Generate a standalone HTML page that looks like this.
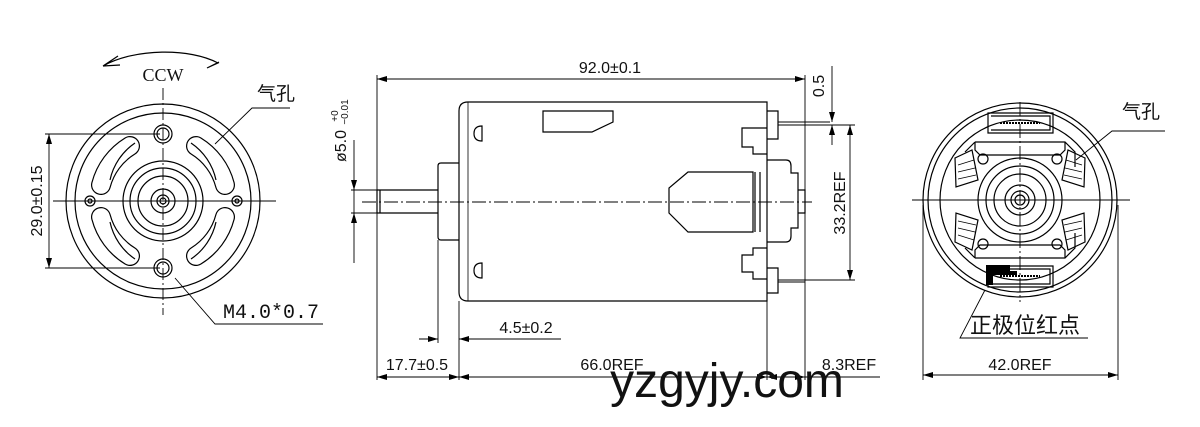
<!DOCTYPE html>
<html><head><meta charset="utf-8"><style>
html,body{margin:0;padding:0;background:#fff;width:1200px;height:427px;overflow:hidden}
svg{display:block}
text{font-family:"Liberation Sans","Noto Sans CJK SC",sans-serif;fill:#111}
</style></head><body>
<svg width="1200" height="427" viewBox="0 0 1200 427" xmlns="http://www.w3.org/2000/svg">
<defs>
<marker id="a" viewBox="0 0 10 6" refX="10" refY="3" markerWidth="10" markerHeight="6" orient="auto-start-reverse" markerUnits="userSpaceOnUse"><path d="M0,0 L10,3 L0,6 z" fill="#000"/></marker>
</defs>
<g fill="none" stroke="#000" stroke-width="1.2">
<!-- LEFT VIEW -->
<circle cx="163" cy="201" r="97"/>
<circle cx="163" cy="201" r="88"/>
<circle cx="163" cy="201" r="40"/>
<circle cx="163" cy="201" r="33"/>
<circle cx="163" cy="201" r="25"/>
<circle cx="163" cy="201" r="12"/>
<circle cx="163" cy="201" r="6"/>
<circle cx="163" cy="201" r="3"/>
<circle cx="163" cy="134" r="9"/><circle cx="163" cy="134" r="6"/>
<circle cx="163" cy="268" r="9"/><circle cx="163" cy="268" r="6"/>
<circle cx="90" cy="201" r="5"/><circle cx="90" cy="201" r="2"/>
<circle cx="237" cy="201" r="5"/><circle cx="237" cy="201" r="2"/>
<g stroke-width="20" stroke-linecap="round">
<path d="M130,146 A65,65 0 0 0 101,185"/>
<path d="M196,146 A65,65 0 0 1 225,185"/>
<path d="M101,217 A65,65 0 0 0 130,256"/>
<path d="M225,217 A65,65 0 0 1 196,256"/>
</g>
<g stroke="#fff" stroke-width="17.6" stroke-linecap="round">
<path d="M130,146 A65,65 0 0 0 101,185"/>
<path d="M196,146 A65,65 0 0 1 225,185"/>
<path d="M101,217 A65,65 0 0 0 130,256"/>
<path d="M225,217 A65,65 0 0 1 196,256"/>
</g>
<path d="M135,143 A60,60 0 0 0 110,180"/><path d="M191,143 A60,60 0 0 1 216,180"/>
<path d="M110,222 A60,60 0 0 0 135,259"/><path d="M216,222 A60,60 0 0 1 191,259"/>
<path d="M163,88 V315" stroke-dasharray="12,3,2,3" stroke-width="0.9"/>
<path d="M53,201 H276" stroke-width="0.9"/>
<path d="M45,134 H160 M45,268 H160" stroke-width="0.9"/>
<path d="M49,134 V268" marker-start="url(#a)" marker-end="url(#a)" stroke-width="0.9"/>
<path d="M103,66 C135,48 190,48 218,63 L207,68 L219,62 M103,66 L118,56 M103,66 L120,65"/>
<path d="M290,108 H252 L215,144" stroke-width="0.9"/>
<path d="M323,324 H215 L175,278" stroke-width="0.9"/>

<!-- MIDDLE VIEW -->
<path d="M468,102 H767 V301 H468 Q459,301 459,292 V111 Q459,102 468,102 Z"/>
<path d="M468,102 V301" stroke-width="0.8"/>
<path d="M459,163 H441 Q438,163 438,166 V237 Q438,240 441,240 H459"/>
<path d="M377,190 H438 M377,213 H438 M377,190 V213 M380,190 V213"/>
<path d="M362,202 H812" stroke-dasharray="14,3,2,3" stroke-width="0.9"/>
<path d="M482,126 V141 Q474,141 474,133.5 Q474,126 482,126 Z"/>
<path d="M482,263 V278 Q474,278 474,270.5 Q474,263 482,263 Z"/>
<path d="M543,111 H613 V122 L592,132 H543 Z"/>
<path d="M767,111 H778 V139 H767 M767,128 H742 V147 H753 V154 H767"/>
<path d="M767,248 H753 V255 H742 V272 H753 V279 H767 M767,268 H778 V293 H767"/>
<path d="M767,160 H786 Q791,160 791,166 V173 H798 V228 H791 V236 Q791,242 786,242 H767"/>
<path d="M798,190 H805 V213 H798"/>
<path d="M688,172 H753 V232 H688 L669,213 V188 Z"/>
<path d="M755,172 V232 M760,172 V232"/>
<path d="M778,122 H830 M778,125 H830 M778,280 H805 M778,282 H805" stroke-width="0.9"/>
<g stroke-width="0.9">
<path d="M377,75 V380 M805,75 V380 M767,301 V380 M459,301 V380 M438,240 V343"/>
<path d="M377,79 H805" marker-start="url(#a)" marker-end="url(#a)"/>
<path d="M354,140 V190" marker-end="url(#a)"/><path d="M354,263 V213" marker-end="url(#a)"/>
<path d="M354,190 V213"/>
<path d="M351,190 H377 M351,213 H377"/>
<path d="M832,66 V122" marker-end="url(#a)"/><path d="M832,145 V125" marker-end="url(#a)"/>
<path d="M830,125 H855 M805,280 H855"/>
<path d="M850,125 V280" marker-start="url(#a)" marker-end="url(#a)"/>
<path d="M419,339 H438" marker-end="url(#a)"/><path d="M561,339 H459" marker-end="url(#a)"/>
<path d="M377,377 H459" marker-start="url(#a)" marker-end="url(#a)"/>
<path d="M459,377 H767" marker-start="url(#a)" marker-end="url(#a)"/>
<path d="M767,377 H805" marker-start="url(#a)" marker-end="url(#a)"/>
<path d="M805,377 H880"/>
</g>

<!-- RIGHT VIEW -->
<circle cx="1020" cy="200" r="97"/>
<circle cx="1020" cy="200" r="92"/>
<circle cx="1020" cy="200" r="80"/>
<circle cx="1020" cy="200" r="42"/>
<circle cx="1020" cy="200" r="34"/>
<circle cx="1020" cy="200" r="26"/>
<circle cx="1020" cy="200" r="15"/>
<circle cx="1020" cy="200" r="9"/>
<circle cx="1020" cy="200" r="5"/>
<path d="M988,113 H1053 V133 H988 Z M991,116 H1050 V130 H991"/>
<path d="M988,266 H1053 V287 H988 Z M991,269 H1050 V284 H991"/>
<path d="M975,142 H1065 L1075,152 V167 M965,152 L975,142 M975,142 V150 L980,155 H1060 L1065,150 V142"/>
<path d="M975,258 H1065 L1075,248 V233 M965,248 L975,258 M975,258 V250 L980,245 H1060 L1065,250 V258"/>
<circle cx="983" cy="159" r="5"/><circle cx="1057" cy="159" r="5"/>
<circle cx="983" cy="244" r="5"/><circle cx="1057" cy="244" r="5"/>
<path d="M955,158 L972,150 L978,180 L956,187 Z"/>
<path d="M955,242 L972,250 L978,220 L956,213 Z"/>
<path d="M1085,158 L1068,150 L1062,180 L1084,187 Z"/>
<path d="M1085,242 L1068,250 L1062,220 L1084,213 Z"/>
<path d="M958,165 L974,160 M958,172 L975,168 M958,179 L976,175" stroke-width="0.8"/>
<path d="M958,235 L974,240 M958,228 L975,232 M958,221 L976,225" stroke-width="0.8"/>
<path d="M1082,165 L1066,160 M1082,172 L1065,168 M1082,179 L1064,175" stroke-width="0.8"/>
<path d="M1082,235 L1066,240 M1082,228 L1065,232 M1082,221 L1064,225" stroke-width="0.8"/>
<path d="M1000,123 H1040 M1000,276 H1040" stroke-dasharray="2,1" stroke-width="2"/>
<path d="M1020,102 V302" stroke-dasharray="14,3,2,3" stroke-width="0.9"/>
<path d="M912,200 H1130" stroke-width="0.9"/>
<path d="M1165,131 H1112 L1076,160" stroke-width="0.9"/>
<path d="M1088,338 H960 L985,290" stroke-width="0.9"/>
<path d="M923,205 V380 M1118,205 V380" stroke-width="0.9"/>
<path d="M923,375 H1118" marker-start="url(#a)" marker-end="url(#a)" stroke-width="0.9"/>
</g>
<path d="M986,265 H1010 V271 H993 V285 H986 Z" fill="#000"/>
<path d="M993,271 H1017 V275 H993 Z" fill="#000"/>

<!-- TEXT -->
<text x="163" y="81" font-size="18" text-anchor="middle" style="font-family:'Liberation Serif',serif">CCW</text>
<text x="276" y="100" font-size="19" text-anchor="middle">气孔</text>
<text x="271" y="318" font-size="20" text-anchor="middle" style="font-family:'Liberation Mono',monospace">M4.0*0.7</text>
<text transform="translate(42,201) rotate(-90)" font-size="16" text-anchor="middle">29.0±0.15</text>
<text x="610" y="73" font-size="16" text-anchor="middle">92.0±0.1</text>
<text transform="translate(824,86) rotate(-90)" font-size="16" text-anchor="middle">0.5</text>
<text transform="translate(845,203) rotate(-90)" font-size="16" text-anchor="middle">33.2REF</text>
<text transform="translate(346,146) rotate(-90)" font-size="16" text-anchor="middle">ø5.0</text>
<text transform="translate(338,116) rotate(-90)" font-size="10" text-anchor="middle">+0</text>
<text transform="translate(348,112) rotate(-90)" font-size="10" text-anchor="middle">−0.01</text>
<text x="526" y="333" font-size="16" text-anchor="middle">4.5±0.2</text>
<text x="417" y="370" font-size="16" text-anchor="middle">17.7±0.5</text>
<text x="612" y="370" font-size="16" text-anchor="middle">66.0REF</text>
<text x="849" y="370" font-size="16" text-anchor="middle">8.3REF</text>
<text x="1020" y="370" font-size="16" text-anchor="middle">42.0REF</text>
<text x="1141" y="118" font-size="19" text-anchor="middle">气孔</text>
<text x="1025" y="333" font-size="22" text-anchor="middle">正极位红点</text>
<text x="727" y="397" font-size="48" text-anchor="middle" fill="#222">yzgyjy.com</text>
</svg>
</body></html>
